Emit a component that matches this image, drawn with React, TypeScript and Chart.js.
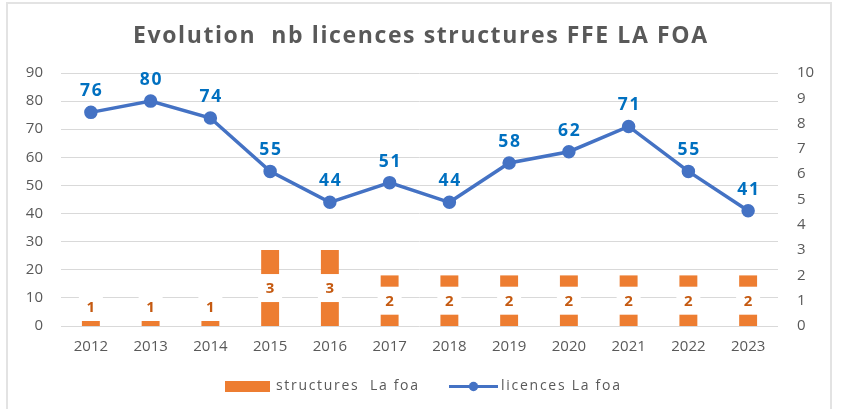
import React, { useEffect, useRef } from "react";
import { Chart, registerables } from "chart.js";

Chart.register(...registerables);

const years = ["2012", "2013", "2014", "2015", "2016", "2017", "2018", "2019", "2020", "2021", "2022", "2023"];
const structures = [1, 1, 1, 3, 3, 2, 2, 2, 2, 2, 2, 2];
const licences = [76, 80, 74, 55, 44, 51, 44, 58, 62, 71, 55, 41];
const structuresLabel = "structures  La foa";
const licencesLabel = "licences La foa";
const titleText = "Evolution  nb licences structures FFE LA FOA";

const FONT = "'Open Sans', 'DejaVu Sans', sans-serif";
const ORANGE = "#ED7D31";
const BLUE = "#4472C4";
const GRAY = "#595959";

// draw text from left x with letter spacing chosen so the text spans targetWidth
function drawSpaced(ctx: any, text: string, x: number, y: number, targetWidth: number) {
  ctx.letterSpacing = "0px";
  const w0 = ctx.measureText(text).width;
  const sp = Math.max(0, (targetWidth - w0) / Math.max(1, text.length - 1));
  ctx.letterSpacing = sp + "px";
  ctx.textAlign = "left";
  ctx.fillText(text, x, y);
  ctx.letterSpacing = "0px";
}

const dataLabelPlugin = {
  id: "dataLabels",
  afterDatasetsDraw(chart: any) {
    const ctx = chart.ctx;
    ctx.save();
    ctx.textAlign = "center";
    ctx.textBaseline = "middle";
    const barMeta = chart.getDatasetMeta(0);
    barMeta.data.forEach((el: any, i: number) => {
      const { x, y, base } = el.getProps(["x", "y", "base"], true);
      let cy = (y + base) / 2;
      const h = 28;
      const w = 24;
      if (cy + h / 2 > base - 5) cy = base - 5 - h / 2;
      ctx.fillStyle = "#ffffff";
      ctx.fillRect(x - w / 2, cy - h / 2, w, h);
      ctx.fillStyle = "#C55A11";
      ctx.font = `bold 15px ${FONT}`;
      ctx.letterSpacing = "0px";
      ctx.fillText(String(structures[i]), x, cy + 1);
    });
    const lineMeta = chart.getDatasetMeta(1);
    lineMeta.data.forEach((el: any, i: number) => {
      const { x, y } = el.getProps(["x", "y"], true);
      ctx.fillStyle = "#0070C0";
      ctx.font = `bold 17.5px ${FONT}`;
      ctx.letterSpacing = "1.5px";
      ctx.fillText(String(licences[i]), x + 0.75, y - 21);
    });
    ctx.letterSpacing = "0px";
    ctx.restore();
  },
};

const titleLegendPlugin = {
  id: "titleLegend",
  afterDraw(chart: any) {
    const ctx = chart.ctx;
    ctx.save();
    // title
    ctx.fillStyle = GRAY;
    ctx.font = `bold 23px ${FONT}`;
    ctx.textBaseline = "alphabetic";
    drawSpaced(ctx, titleText, 133, 43, 574);

    // legend
    const cy = 386.5;
    ctx.font = `14px ${FONT}`;
    ctx.textBaseline = "middle";
    ctx.fillStyle = ORANGE;
    ctx.fillRect(225, cy - 5.5, 45, 11);
    ctx.fillStyle = GRAY;
    drawSpaced(ctx, structuresLabel, 276, cy, 142);

    ctx.strokeStyle = BLUE;
    ctx.lineWidth = 3;
    ctx.beginPath();
    ctx.moveTo(449, cy);
    ctx.lineTo(498, cy);
    ctx.stroke();
    ctx.fillStyle = BLUE;
    ctx.beginPath();
    ctx.arc(473.5, cy, 4.7, 0, Math.PI * 2);
    ctx.fill();
    ctx.fillStyle = GRAY;
    drawSpaced(ctx, licencesLabel, 501, cy, 119);
    ctx.restore();
  },
};

export default function App() {
  const canvasRef = useRef<HTMLCanvasElement | null>(null);

  useEffect(() => {
    if (!canvasRef.current) return;
    const chart = new Chart(canvasRef.current, {
      type: "bar",
      data: {
        labels: years,
        datasets: [
          {
            type: "bar",
            label: structuresLabel,
            data: structures,
            backgroundColor: ORANGE,
            yAxisID: "y1",
            order: 1,
            categoryPercentage: 0.6,
            barPercentage: 0.5,
          },
          {
            type: "line",
            label: licencesLabel,
            data: licences,
            borderColor: BLUE,
            backgroundColor: BLUE,
            borderWidth: 3.5,
            pointRadius: 5,
            pointBackgroundColor: BLUE,
            pointBorderColor: BLUE,
            yAxisID: "y",
            order: 0,
            tension: 0,
          },
        ],
      },
      options: {
        responsive: false,
        animation: false,
        layout: { padding: { top: 73, left: 0, right: 0, bottom: 51 } },
        plugins: {
          legend: { display: false },
          tooltip: { enabled: false },
          title: { display: false },
        },
        scales: {
          x: {
            grid: { display: false, drawTicks: false },
            border: { display: false },
            ticks: { color: GRAY, font: { family: FONT, size: 15 }, padding: 12 },
            afterFit(scale: any) {
              scale.height = 32;
            },
          },
          y: {
            position: "left",
            min: 0,
            max: 90,
            ticks: { stepSize: 10, color: GRAY, font: { family: FONT, size: 15 }, padding: 18 },
            grid: { color: "#D9D9D9", lineWidth: 1, drawTicks: false },
            border: { display: false },
            afterFit(scale: any) {
              scale.width = 61;
            },
          },
          y1: {
            position: "right",
            min: 0,
            max: 10,
            ticks: { stepSize: 1, color: GRAY, font: { family: FONT, size: 15 }, padding: 19 },
            grid: { display: false, drawTicks: false },
            border: { display: false },
            afterFit(scale: any) {
              scale.width = 70;
            },
          },
        },
      },
      plugins: [dataLabelPlugin, titleLegendPlugin],
    } as any);
    return () => chart.destroy();
  }, []);

  return (
    <div style={{ position: "absolute", left: 0, top: 0, width: 848, height: 409, overflow: "hidden", background: "#fff" }}>
      <div
        style={{
          position: "absolute",
          left: 6,
          top: 2,
          width: 826,
          height: 440,
          border: "2px solid #E3E3E3",
          boxSizing: "border-box",
        }}
      />
      <canvas ref={canvasRef} width={848} height={409} style={{ position: "absolute", left: 0, top: 0 }} />
    </div>
  );
}
